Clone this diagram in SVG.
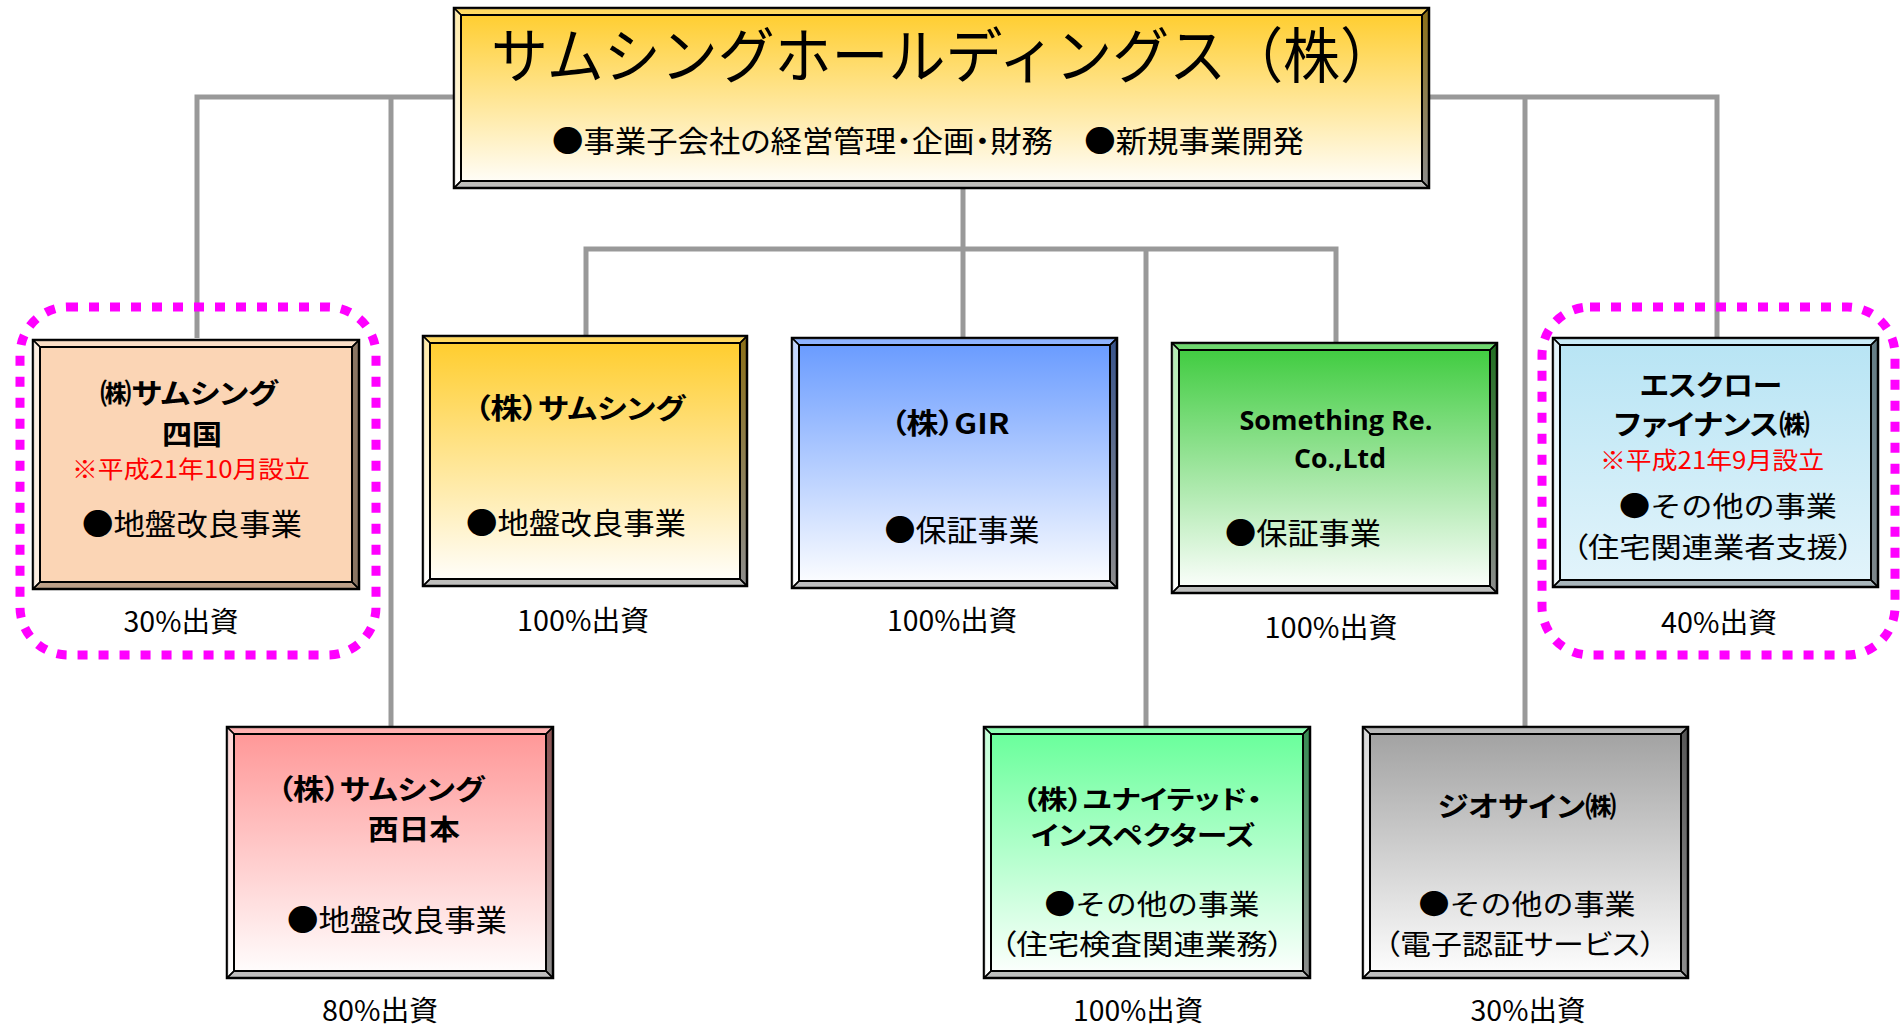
<svg xmlns="http://www.w3.org/2000/svg" width="1904" height="1027" viewBox="0 0 1904 1027">
<defs>
<linearGradient id="gY" x1="0" y1="0" x2="0" y2="1"><stop offset="0" stop-color="#FFCC29"/><stop offset="1" stop-color="#FFFFFF"/></linearGradient>
<linearGradient id="gB" x1="0" y1="0" x2="0" y2="1"><stop offset="0" stop-color="#6699FF"/><stop offset="1" stop-color="#FFFFFF"/></linearGradient>
<linearGradient id="gG" x1="0" y1="0" x2="0" y2="1"><stop offset="0" stop-color="#3CCB3C"/><stop offset="1" stop-color="#FFFFFF"/></linearGradient>
<linearGradient id="gR" x1="0" y1="0" x2="0" y2="1"><stop offset="0" stop-color="#FF9595"/><stop offset="1" stop-color="#FFFFFF"/></linearGradient>
<linearGradient id="gLG" x1="0" y1="0" x2="0" y2="1"><stop offset="0" stop-color="#66FF99"/><stop offset="1" stop-color="#FFFFFF"/></linearGradient>
<linearGradient id="gGr" x1="0" y1="0" x2="0" y2="1"><stop offset="0" stop-color="#A0A0A0"/><stop offset="1" stop-color="#FFFFFF"/></linearGradient>
<linearGradient id="gLB" x1="0" y1="0" x2="0" y2="1"><stop offset="0" stop-color="#B7E4F4"/><stop offset="1" stop-color="#E3F4FB"/></linearGradient>
</defs>
<style>
.frame{stroke:#000;stroke-width:2.5}
.ft{fill:#fff;fill-opacity:.25;stroke:#000;stroke-width:1.5;stroke-linejoin:round}
.fl{fill:#fff;fill-opacity:.6;stroke:#000;stroke-width:1.5;stroke-linejoin:round}
.fr{fill:#000;fill-opacity:.45;stroke:#000;stroke-width:1.5;stroke-linejoin:round}
.fb{fill:#000;fill-opacity:.25;stroke:#000;stroke-width:1.5;stroke-linejoin:round}
.inner{fill:none;stroke:#000;stroke-width:2}
.conn{fill:none;stroke:#999;stroke-width:5}
.hl{fill:none;stroke:#FF00FF;stroke-width:9;stroke-dasharray:10 11}
text{font-family:"Noto Sans CJK JP","Noto Sans",sans-serif;fill:#000;text-anchor:middle}
.p{font-feature-settings:"palt" 1}
.nm{font-size:28px;font-weight:bold;font-feature-settings:"palt" 1}
.nm2{font-size:26px;font-weight:bold;font-feature-settings:"palt" 1}
.bd{font-size:30px}
.bd2{font-size:28px}
.pc{font-size:28px}
.red{font-size:24px;fill:#FF0000}
.en{font-family:"Open Sans","Noto Sans",sans-serif;font-size:26px;font-weight:bold}
</style>

<g id="connectors">
<path class="conn" d="M197,338 V97 H456"/>
<path class="conn" d="M391,97 V727"/>
<path class="conn" d="M1427,97 H1717 V338"/>
<path class="conn" d="M1525,97 V727"/>
<path class="conn" d="M963,188 V338"/>
<path class="conn" d="M586,336 V249 H1336 V343"/>
<path class="conn" d="M1146,249 V727"/>
</g>

<g id="highlights">
<rect class="hl" x="20" y="307" width="356" height="348" rx="48"/>
<rect class="hl" x="1542" y="307" width="353" height="348" rx="48"/>
</g>

<g id="holdings">
<rect class="frame" x="454" y="8" width="975" height="180" fill="url(#gY)"/>
<polygon class="ft" points="454,8 1429,8 1422,15 461,15"/>
<polygon class="fl" points="454,8 461,15 461,181 454,188"/>
<polygon class="fr" points="1429,8 1429,188 1422,181 1422,15"/>
<polygon class="fb" points="454,188 461,181 1422,181 1429,188"/>
<rect class="inner" x="461" y="15" width="961" height="166"/>
<text x="944" y="78" font-size="60" textLength="906" lengthAdjust="spacingAndGlyphs">サムシングホールディングス（株）</text>
<text class="p" x="928" y="152" font-size="30" textLength="752" lengthAdjust="spacingAndGlyphs">●事業子会社の経営管理・企画・財務　●新規事業開発</text>
</g>

<g id="shikoku">
<rect class="frame" x="33" y="340" width="326" height="249" fill="#FBD5B5"/>
<polygon class="ft" points="33,340 359,340 352,347 40,347"/>
<polygon class="fl" points="33,340 40,347 40,582 33,589"/>
<polygon class="fr" points="359,340 359,589 352,582 352,347"/>
<polygon class="fb" points="33,589 40,582 352,582 359,589"/>
<rect class="inner" x="40" y="347" width="312" height="235"/>
<text class="nm" x="189" y="404" textLength="178" lengthAdjust="spacingAndGlyphs">㈱サムシング</text>
<text class="nm" x="192" y="445" textLength="60" lengthAdjust="spacingAndGlyphs">四国</text>
<text class="red" x="191" y="478" textLength="238" lengthAdjust="spacingAndGlyphs">※平成21年10月設立</text>
<text class="bd" x="192" y="535" textLength="220" lengthAdjust="spacingAndGlyphs">●地盤改良事業</text>
<text class="pc" x="181" y="632" textLength="115" lengthAdjust="spacingAndGlyphs">30%出資</text>
</g>

<g id="samsing">
<rect class="frame" x="423" y="336" width="324" height="250" fill="url(#gY)"/>
<polygon class="ft" points="423,336 747,336 740,343 430,343"/>
<polygon class="fl" points="423,336 430,343 430,579 423,586"/>
<polygon class="fr" points="747,336 747,586 740,579 740,343"/>
<polygon class="fb" points="423,586 430,579 740,579 747,586"/>
<rect class="inner" x="430" y="343" width="310" height="236"/>
<text class="nm" x="580" y="419" textLength="211" lengthAdjust="spacingAndGlyphs">（株）サムシング</text>
<text class="bd" x="576" y="534" textLength="220" lengthAdjust="spacingAndGlyphs">●地盤改良事業</text>
<text class="pc" x="583" y="631" textLength="132" lengthAdjust="spacingAndGlyphs">100%出資</text>
</g>

<g id="gir">
<rect class="frame" x="792" y="338" width="325" height="250" fill="url(#gB)"/>
<polygon class="ft" points="792,338 1117,338 1110,345 799,345"/>
<polygon class="fl" points="792,338 799,345 799,581 792,588"/>
<polygon class="fr" points="1117,338 1117,588 1110,581 1110,345"/>
<polygon class="fb" points="792,588 799,581 1110,581 1117,588"/>
<rect class="inner" x="799" y="345" width="311" height="236"/>
<text class="nm" x="950" y="434" textLength="119" lengthAdjust="spacingAndGlyphs">（株）GIR</text>
<text class="bd" x="962" y="541" textLength="155" lengthAdjust="spacingAndGlyphs">●保証事業</text>
<text class="pc" x="952" y="631" textLength="130" lengthAdjust="spacingAndGlyphs">100%出資</text>
</g>

<g id="something-re">
<rect class="frame" x="1172" y="343" width="325" height="250" fill="url(#gG)"/>
<polygon class="ft" points="1172,343 1497,343 1490,350 1179,350"/>
<polygon class="fl" points="1172,343 1179,350 1179,586 1172,593"/>
<polygon class="fr" points="1497,343 1497,593 1490,586 1490,350"/>
<polygon class="fb" points="1172,593 1179,586 1490,586 1497,593"/>
<rect class="inner" x="1179" y="350" width="311" height="236"/>
<text class="en" x="1336" y="430" textLength="193" lengthAdjust="spacingAndGlyphs">Something Re.</text>
<text class="en" x="1340" y="468" textLength="92" lengthAdjust="spacingAndGlyphs">Co.,Ltd</text>
<text class="bd" x="1303" y="544" textLength="156" lengthAdjust="spacingAndGlyphs">●保証事業</text>
<text class="pc" x="1331" y="638" textLength="133" lengthAdjust="spacingAndGlyphs">100%出資</text>
</g>

<g id="escrow">
<rect class="frame" x="1553" y="338" width="325" height="249" fill="url(#gLB)"/>
<polygon class="ft" points="1553,338 1878,338 1871,345 1560,345"/>
<polygon class="fl" points="1553,338 1560,345 1560,580 1553,587"/>
<polygon class="fr" points="1878,338 1878,587 1871,580 1871,345"/>
<polygon class="fb" points="1553,587 1560,580 1871,580 1878,587"/>
<rect class="inner" x="1560" y="345" width="311" height="235"/>
<text class="nm" x="1711" y="396" textLength="142" lengthAdjust="spacingAndGlyphs">エスクロー</text>
<text class="nm" x="1712" y="435" textLength="196" lengthAdjust="spacingAndGlyphs">ファイナンス㈱</text>
<text class="red" x="1712" y="469" textLength="224" lengthAdjust="spacingAndGlyphs">※平成21年9月設立</text>
<text class="bd2" x="1728" y="517" textLength="218" lengthAdjust="spacingAndGlyphs">●その他の事業</text>
<text class="bd2 p" x="1713" y="558" textLength="281" lengthAdjust="spacingAndGlyphs">（住宅関連業者支援）</text>
<text class="pc" x="1719" y="633" textLength="116" lengthAdjust="spacingAndGlyphs">40%出資</text>
</g>

<g id="nishinihon">
<rect class="frame" x="227" y="727" width="326" height="251" fill="url(#gR)"/>
<polygon class="ft" points="227,727 553,727 546,734 234,734"/>
<polygon class="fl" points="227,727 234,734 234,971 227,978"/>
<polygon class="fr" points="553,727 553,978 546,971 546,734"/>
<polygon class="fb" points="227,978 234,971 546,971 553,978"/>
<rect class="inner" x="234" y="734" width="312" height="237"/>
<text class="nm" x="381" y="800" textLength="207" lengthAdjust="spacingAndGlyphs">（株）サムシング</text>
<text class="nm" x="414" y="840" textLength="92" lengthAdjust="spacingAndGlyphs">西日本</text>
<text class="bd" x="397" y="931" textLength="220" lengthAdjust="spacingAndGlyphs">●地盤改良事業</text>
<text class="pc" x="380" y="1021" textLength="116" lengthAdjust="spacingAndGlyphs">80%出資</text>
</g>

<g id="united">
<rect class="frame" x="984" y="727" width="326" height="251" fill="url(#gLG)"/>
<polygon class="ft" points="984,727 1310,727 1303,734 991,734"/>
<polygon class="fl" points="984,727 991,734 991,971 984,978"/>
<polygon class="fr" points="1310,727 1310,978 1303,971 1303,734"/>
<polygon class="fb" points="984,978 991,971 1303,971 1310,978"/>
<rect class="inner" x="991" y="734" width="312" height="237"/>
<text class="nm2" x="1142" y="809" textLength="240" lengthAdjust="spacingAndGlyphs">（株）ユナイテッド・</text>
<text class="nm2" x="1143" y="845" textLength="224" lengthAdjust="spacingAndGlyphs">インスペクターズ</text>
<text class="bd2" x="1152" y="915" textLength="215" lengthAdjust="spacingAndGlyphs">●その他の事業</text>
<text class="bd2 p" x="1142" y="955" textLength="283" lengthAdjust="spacingAndGlyphs">（住宅検査関連業務）</text>
<text class="pc" x="1138" y="1021" textLength="130" lengthAdjust="spacingAndGlyphs">100%出資</text>
</g>

<g id="geosign">
<rect class="frame" x="1363" y="727" width="325" height="251" fill="url(#gGr)"/>
<polygon class="ft" points="1363,727 1688,727 1681,734 1370,734"/>
<polygon class="fl" points="1363,727 1370,734 1370,971 1363,978"/>
<polygon class="fr" points="1688,727 1688,978 1681,971 1681,734"/>
<polygon class="fb" points="1363,978 1370,971 1681,971 1688,978"/>
<rect class="inner" x="1370" y="734" width="311" height="237"/>
<text class="nm" x="1527" y="817" textLength="179" lengthAdjust="spacingAndGlyphs">ジオサイン㈱</text>
<text class="bd2" x="1527" y="915" textLength="217" lengthAdjust="spacingAndGlyphs">●その他の事業</text>
<text class="bd2 p" x="1520" y="955" textLength="271" lengthAdjust="spacingAndGlyphs">（電子認証サービス）</text>
<text class="pc" x="1528" y="1021" textLength="115" lengthAdjust="spacingAndGlyphs">30%出資</text>
</g>
</svg>
